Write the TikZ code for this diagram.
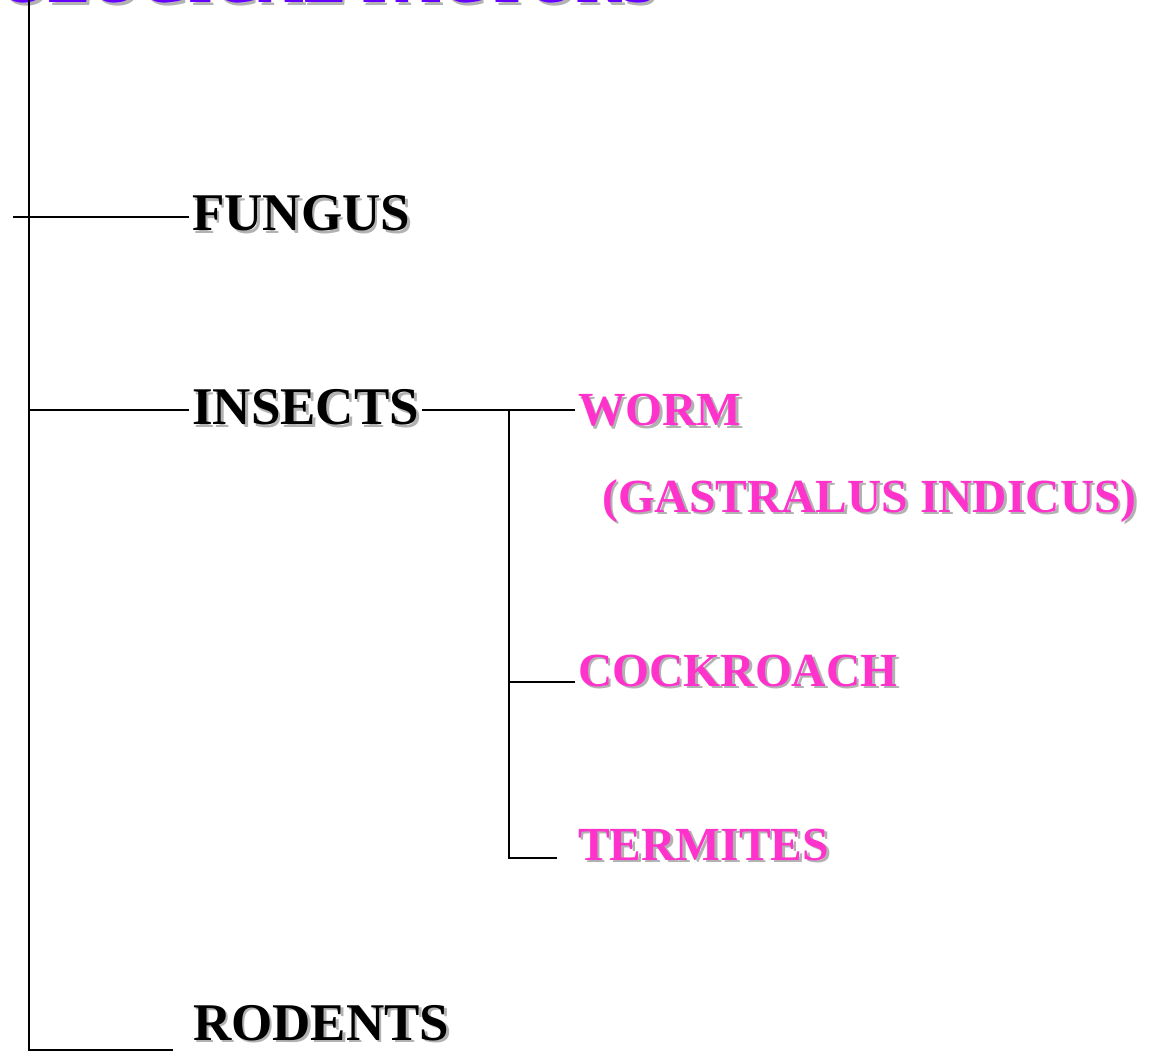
\documentclass[tikz,border=0pt]{standalone}
\usepackage{fontspec}
\setmainfont{Liberation Serif}
\definecolor{ttl}{RGB}{102,0,255}
\definecolor{pnk}{RGB}{255,51,204}
\definecolor{shg}{RGB}{178,178,178}
\newcommand{\shd}[1]{\rlap{\kern2.5pt\raisebox{-2.5pt}{\textcolor{shg}{#1}}}#1}
\tikzset{
  lbl/.style={anchor=base west, inner xsep=3pt, inner ysep=0pt, font=\bfseries\fontsize{53}{60}\selectfont, text=black},
  sub/.style={lbl, font=\bfseries\fontsize{47.5}{55}\selectfont, text=pnk},
  ttlstyle/.style={lbl, font=\bfseries\fontsize{63}{70}\selectfont, text=ttl},
  conn/.style={line width=1.8pt, line join=miter, draw=black}
}
\begin{document}
\begin{tikzpicture}[x=1pt,y=-1pt]
\useasboundingbox (0,0) rectangle (1157,1056);
\node[ttlstyle] (title) at (-70,3) {\shd{BIOLOGICAL FACTORS}};
\node[lbl] (fungus) at (189,231) {\shd{FUNGUS}};
\node[lbl] (insects) at (189,425) {\shd{INSECTS}};
\node[lbl] (rodents) at (190,1040) {\shd{RODENTS}};
\node[sub] (worm) at (575,426) {\shd{WORM}};
\node[sub] (gastralus) at (599,512) {\shd{(GASTRALUS INDICUS)}};
\node[sub] (cockroach) at (575,686) {\shd{COCKROACH}};
\node[sub] (termites) at (575,860) {\shd{TERMITES}};
\coordinate (mtop) at (29,0);
\coordinate (mbot) at (29,1050);
\coordinate (fleft) at (13,217);
\coordinate (ileft) at (29,410);
\coordinate (rend) at (173,1050);
\coordinate (stop) at (509,410);
\coordinate (sbot) at (509,858);
\coordinate (cjoin) at (509,682);
\coordinate (tend) at (557,858);
\draw[conn] (mtop) -- (mbot) -- (rend);
\draw[conn] (fleft) -- (fleft -| fungus.west);
\draw[conn] (ileft) -- (ileft -| insects.west);
\draw[conn] (ileft -| insects.east) -- (ileft -| worm.west);
\draw[conn] (stop) -- (sbot) -- (tend);
\draw[conn] (cjoin) -- (cjoin -| cockroach.west);
\end{tikzpicture}
\end{document}
